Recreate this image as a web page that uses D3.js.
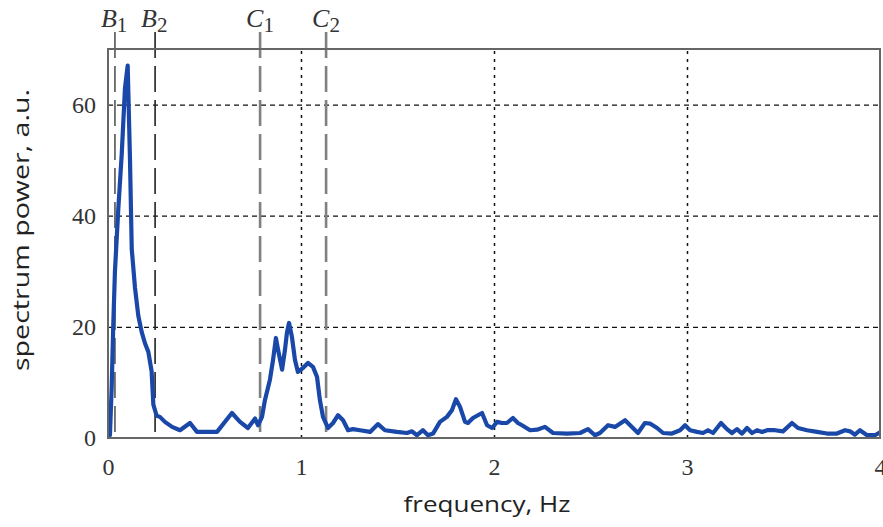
<!DOCTYPE html>
<html>
<head>
<meta charset="utf-8">
<script src="https://cdn.jsdelivr.net/npm/d3@7"></script>
<style>
  body { margin: 0; background: #fff; }
</style>
</head>
<body>
<div id="output"></div>
<script>
// spectrum
const freq = [0, 0.010, 0.019, 0.027, 0.036, 0.053, 0.071, 0.088, 0.102, 0.114, 0.123, 0.140, 0.157, 0.175, 0.192,
    0.209, 0.226, 0.235, 0.252, 0.269, 0.295, 0.332, 0.373, 0.425, 0.461, 0.565, 0.642, 0.684, 0.725, 0.762,
    0.777, 0.798, 0.813, 0.839, 0.855, 0.870, 0.881, 0.902, 0.917, 0.927, 0.938, 0.953, 0.969, 0.984, 1.010,
    1.036, 1.062, 1.083, 1.098, 1.114, 1.140, 1.166, 1.192, 1.218, 1.244, 1.269, 1.306, 1.358, 1.399, 1.435,
    1.497, 1.549, 1.575, 1.601, 1.632, 1.658, 1.684, 1.720, 1.756, 1.782, 1.803, 1.824, 1.850, 1.865, 1.891,
    1.938, 1.964, 1.990, 2.016, 2.041, 2.067, 2.098, 2.124, 2.145, 2.187, 2.223, 2.264, 2.306, 2.378, 2.446,
    2.487, 2.523, 2.549, 2.591, 2.627, 2.679, 2.720, 2.746, 2.782, 2.808, 2.845, 2.876, 2.922, 2.964, 2.990,
    3.016, 3.052, 3.083, 3.109, 3.135, 3.176, 3.207, 3.233, 3.259, 3.285, 3.311, 3.337, 3.363, 3.389, 3.415,
    3.456, 3.497, 3.544, 3.575, 3.622, 3.674, 3.725, 3.777, 3.819, 3.845, 3.870, 3.896, 3.933, 3.974, 4.000];
const power = [0.5, 0.5, 9, 20, 30, 41, 51, 63, 67, 50, 34, 27, 22, 19, 17,
    15.5, 12, 6, 4, 3.8, 2.9, 2, 1.4, 2.7, 1.1, 1.1, 4.5, 2.9, 1.8, 3.5,
    2.3, 3.8, 6.8, 10.5, 14, 18, 15.9, 12.3, 15.9, 18.9, 20.7, 18.2, 14, 11.9, 12.6,
    13.5, 12.8, 11, 6.8, 3.8, 1.8, 2.7, 4.1, 3.2, 1.4, 1.6, 1.4, 1.1, 2.5, 1.4,
    1.1, 0.9, 1.2, 0.5, 1.4, 0.5, 0.8, 2.9, 3.8, 5, 7, 5.6, 2.9, 2.7, 3.6,
    4.5, 2.3, 1.8, 2.9, 2.7, 2.7, 3.6, 2.7, 2.3, 1.4, 1.5, 2, 0.9, 0.8, 0.9,
    1.6, 0.5, 0.9, 2.3, 2, 3.2, 1.8, 0.9, 2.7, 2.6, 1.8, 0.9, 0.8, 1.4, 2.3,
    1.4, 1.1, 0.9, 1.4, 0.9, 2.7, 1.6, 0.9, 1.6, 0.8, 1.8, 0.9, 1.4, 1.1, 1.4,
    1.4, 1.2, 2.7, 1.8, 1.4, 1.1, 0.8, 0.8, 1.4, 1.2, 0.6, 1.4, 0.5, 0.5, 1.0];

const xTicks = [0, 1, 2, 3, 4];
const yTicks = [0, 20, 40, 60];
const markerNames = ["B", "B", "C", "C"];
const markerSubs = ["1", "2", "1", "2"];
const markerFreqs = [0.036, 0.244, 0.788, 1.13];

const W = 883, H = 527;
const margin = { left: 108, top: 49, right: 3, bottom: 89 };
const pw = W - margin.left - margin.right;
const ph = H - margin.top - margin.bottom;

const x = d3.scaleLinear().domain([0, 4]).range([0, pw]);
const y = d3.scaleLinear().domain([0, 70]).range([ph, 0]);

const svg = d3.select("#output").append("svg").attr("width", W).attr("height", H);
const g = svg.append("g").attr("transform", `translate(${margin.left},${margin.top})`);

// grid
const gy = g.append("g").call(d3.axisLeft(y).tickValues(yTicks.slice(1)).tickSize(-pw).tickFormat(""));
gy.select(".domain").remove();
gy.selectAll("line").attr("stroke", "#111").attr("stroke-width", 1.2).attr("stroke-dasharray", "5,4");

const gx = g.append("g").attr("transform", `translate(0,${ph})`)
    .call(d3.axisBottom(x).tickValues(xTicks.slice(1, 4)).tickSize(-ph).tickFormat(""));
gx.select(".domain").remove();
gx.selectAll("line").attr("stroke", "#111").attr("stroke-width", 1.5).attr("stroke-dasharray", "3,5");

// band markers
markerFreqs.forEach((f, i) => {
    const isB = markerNames[i] === "B";
    g.append("line")
        .attr("x1", x(f)).attr("x2", x(f))
        .attr("y1", -17).attr("y2", ph)
        .attr("stroke", i === 0 ? "#555" : (isB ? "#222" : "#808080"))
        .attr("stroke-width", isB ? 1.6 : 2.6)
        .attr("stroke-dasharray", "26,8");
    const t = g.append("text")
        .attr("x", x(f) - 14)
        .attr("y", -22)
        .style("font-family", "Liberation Serif, serif")
        .style("font-size", "26px")
        .style("fill", "#333");
    t.append("tspan").style("font-style", "italic").text(markerNames[i]);
    t.append("tspan").attr("dy", 5).style("font-size", "21px").text(markerSubs[i]);
});

// spectrum line
g.append("clipPath").attr("id", "clip").append("rect").attr("width", pw).attr("height", ph);
const pts = freq.map((f, i) => [f, power[i]]);
g.append("path")
    .datum(pts)
    .attr("clip-path", "url(#clip)")
    .attr("fill", "none")
    .attr("stroke", "#1a48a8")
    .attr("stroke-width", 4.2)
    .attr("stroke-linejoin", "round")
    .attr("d", d3.line().x(d => x(d[0])).y(d => y(d[1])));

// frame
g.append("rect")
    .attr("width", pw).attr("height", ph)
    .attr("fill", "none").attr("stroke", "#666").attr("stroke-width", 2);

// tick labels
const ax = g.append("g").attr("transform", `translate(0,${ph})`)
    .call(d3.axisBottom(x).tickValues(xTicks).tickSize(0).tickPadding(20).tickFormat(d3.format("d")));
ax.select(".domain").remove();
ax.selectAll("text").style("font-family", "Liberation Serif, serif").style("font-size", "24px").style("fill", "#333");

const ay = g.append("g")
    .call(d3.axisLeft(y).tickValues(yTicks).tickSize(0).tickPadding(12).tickFormat(d3.format("d")));
ay.select(".domain").remove();
ay.selectAll("text").style("font-family", "Liberation Serif, serif").style("font-size", "24px").style("fill", "#333");

// axis titles
svg.append("text")
    .attr("x", 487).attr("y", 512)
    .style("text-anchor", "middle")
    .style("font-family", "Open Sans, sans-serif")
    .style("font-size", "21px")
    .style("fill", "#222")
    .attr("textLength", 167)
    .attr("lengthAdjust", "spacingAndGlyphs")
    .text("frequency, Hz");

svg.append("text")
    .attr("transform", "translate(29,230) rotate(-90)")
    .style("text-anchor", "middle")
    .style("font-family", "Open Sans, sans-serif")
    .style("font-size", "21px")
    .style("fill", "#222")
    .attr("textLength", 282)
    .attr("lengthAdjust", "spacingAndGlyphs")
    .text("spectrum power, a.u.");
</script>
</body>
</html>
